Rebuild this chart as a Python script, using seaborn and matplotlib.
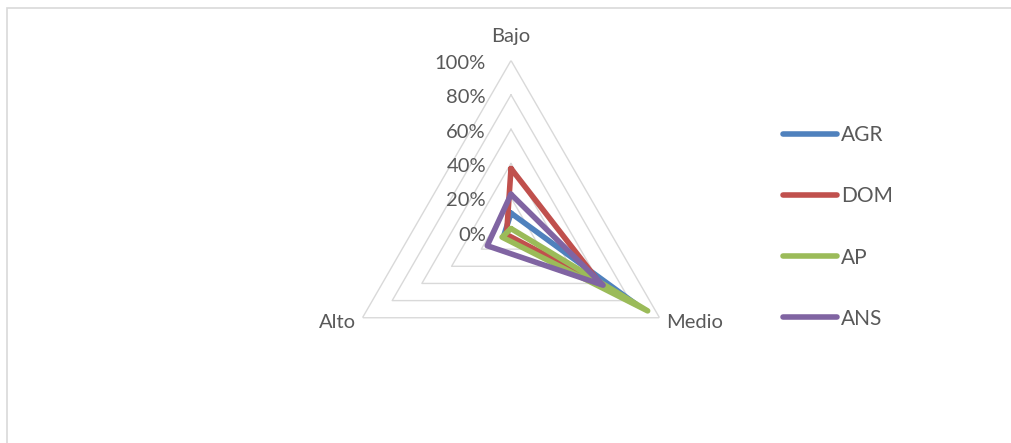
import numpy as np
import pandas as pd
import matplotlib
matplotlib.use("Agg")
import matplotlib.pyplot as plt
from matplotlib.lines import Line2D
from matplotlib.patches import Rectangle
import matplotlib.transforms as mtransforms
import seaborn as sns

# Categories of the radar (clockwise from the top)
categories = ["Bajo", "Medio", "Alto"]

# Share of each group per level
agr = [0.11, 0.84, 0.05]
dom = [0.37, 0.60, 0.03]
ap = [0.02, 0.92, 0.06]
ans = [0.22, 0.62, 0.16]

series_names = ["AGR", "DOM", "AP", "ANS"]
series_values = [agr, dom, ap, ans]

r_ticks = [0.0, 0.2, 0.4, 0.6, 0.8, 1.0]
r_tick_labels = ["0%", "20%", "40%", "60%", "80%", "100%"]

colors = {"AGR": "#4F81BD", "DOM": "#C0504D", "AP": "#9BBB59", "ANS": "#8064A2"}
grid_color = "#D9D9D9"
text_color = "#595959"

sns.set_style("white")
plt.rcParams["font.family"] = ["Lato", "DejaVu Sans"]

W, H = 1011, 443
fig = plt.figure(figsize=(W / 100, H / 100), dpi=100)

# Outer chart frame
fig.patches.append(Rectangle((7 / W, -0.2), 1.2, 1.2 - 8 / H, transform=fig.transFigure,
                             fill=False, edgecolor=grid_color, linewidth=1.2))

cx, cy, rad = 511, 232, 171.5
ax = fig.add_axes([(cx - rad) / W, (H - cy - rad) / H, 2 * rad / W, 2 * rad / H],
                  projection="polar")
ax.set_theta_offset(np.pi / 2)
ax.set_theta_direction(-1)

n = len(categories)
angles = np.arange(n) * 2 * np.pi / n
closed_angles = np.concatenate([angles, angles[:1]])

# Triangular grid rings
for r in r_ticks[1:]:
    ax.plot(closed_angles, [r] * (n + 1), color=grid_color, linewidth=1.0, zorder=1)

# Long-format table for seaborn, each polygon closed back to its first point
rows = []
for name, vals in zip(series_names, series_values):
    for i in list(range(n)) + [0]:
        rows.append({"theta": angles[i], "r": vals[i], "serie": name})
df = pd.DataFrame(rows)

lw = 4.0
sns.lineplot(data=df, x="theta", y="r", hue="serie", hue_order=series_names,
             palette=colors, sort=False, estimator=None, units="serie",
             linewidth=lw, ax=ax, legend=False, zorder=3,
             solid_joinstyle="round", solid_capstyle="round")

ax.set_ylim(0, 1)
ax.grid(False)
ax.spines["polar"].set_visible(False)
ax.set_xticks([])
ax.set_yticks([])
ax.set_xlabel("")
ax.set_ylabel("")
ax.patch.set_alpha(0)

fs = 14.5
# Radial tick labels to the left of the top axis
for r, lab in zip(r_ticks, r_tick_labels):
    tr = ax.transData + mtransforms.ScaledTranslation(-25 / 100, -3 / 100, fig.dpi_scale_trans)
    ax.text(0, r, lab, transform=tr, ha="right", va="center", fontsize=fs, color=text_color)

# Category labels at the tips
offsets = {"Bajo": (0, 24, "center"), "Medio": (7, -5, "left"), "Alto": (-7, -5, "right")}
for a, cat in zip(angles, categories):
    dx, dy, ha = offsets[cat]
    tr = ax.transData + mtransforms.ScaledTranslation(dx / 100, dy / 100, fig.dpi_scale_trans)
    ax.text(a, 1.0, cat, transform=tr, ha=ha, va="center", fontsize=fs, color=text_color)

handles = [Line2D([0], [0], color=colors[s], linewidth=lw, solid_capstyle="round")
           for s in series_names]
fig.legend(handles, series_names, loc="upper left", bbox_to_anchor=(783 / W, 1 - 125 / H),
           frameon=False, fontsize=15, labelcolor=text_color, handlelength=2.6,
           handletextpad=0.2, labelspacing=1.98, borderpad=0, borderaxespad=0)

fig.savefig("out.png", dpi=100)
